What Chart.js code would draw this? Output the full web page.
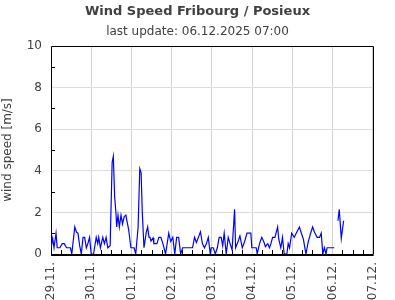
<!DOCTYPE html>
<html>
<head>
<meta charset="utf-8">
<script src="https://cdn.jsdelivr.net/npm/chart.js@4/dist/chart.umd.min.js"></script>
<style>
html,body{margin:0;padding:0;background:#fff;}
#wrap{width:395px;height:300px;position:relative;}
</style>
</head>
<body>
<div id="wrap"><canvas id="c" width="395" height="300"></canvas></div>
<script>
const titleText = 'Wind Speed Fribourg / Posieux';
const subtitleText = 'last update: 06.12.2025 07:00';
const yAxisTitle = 'wind speed [m/s]';
const dayLabels = ['29.11.','30.11.','01.12.','02.12.','03.12.','04.12.','05.12.','06.12.','07.12.'];
const yTicks = [0, 2, 4, 6, 8, 10];

// hours since 29.11. 00:00
const hours = [0,1.0,1.8,3.0,3.7,5.3,6.7,7.9,9.3,11.6,12.4,14.2,15.2,16.1,17.1,18.1,19.1,20.1,21.1,22.0,23.0,24.0,25.4,26.0,27.0,27.9,28.5,29.5,30.9,31.9,32.9,33.9,35.3,36.5,37.2,38.0,38.8,39.2,40.0,40.8,41.8,42.7,43.7,44.7,45.3,46.3,47.7,49.6,50.6,52.0,53.0,53.8,54.5,55.5,56.9,57.7,58.5,59.1,59.7,60.9,61.4,63.2,64.4,65.6,66.8,68.4,70.3,71.5,72.7,73.9,75.0,76.2,77.4,78.6,84.5,85.7,86.8,88.0,89.2,90.4,91.6,92.8,93.9,95.1,95.7,96.9,98.1,99.3,100.4,101.6,102.5,103.4,104.6,105.8,106.9,108.1,109.6,110.2,111.7,112.8,114.2,115.6,117.0,119.3,119.9,122.5,123.1,124.5,125.8,127.0,128.0,129.4,130.4,131.3,132.3,133.7,135.3,136.0,137.2,138.2,139.2,140.8,141.6,142.4,143.7,145.2,146.7,148.3,149.5,150.7,152.2,153.6,155.0,156.2,157.3,158.9,160.3,161.3,162.3,163.2,164.2,164.8,169.1,170.2,171.3,172.1,173.3,174.7];
const speed = [0.27,0.75,0.3,1.0,0.3,0.3,0.5,0.5,0.3,0.3,0,1.3,1.05,1.0,0.4,0,0.8,0.8,0.3,0.5,0.8,0,0,0.3,0.8,0.5,0.8,0.3,0.8,0.5,0.8,0.3,0.4,4.4,4.7,2.75,1.95,1.3,1.87,1.3,1.87,1.45,1.8,1.87,1.6,1.2,0.3,0.3,0,1.3,4.1,3.9,2.0,0.3,1.05,1.3,0.8,0.8,0.62,0.77,0.5,0.5,0.8,0.8,0.5,0,1.0,0.6,0.8,0,0.8,0.8,0,0.3,0.3,0.8,0.55,0.8,1.07,0.5,0.3,0.5,0.8,0,0.3,0.3,0,0.3,0.8,0.8,0.4,1.0,0,0.8,0.5,0.2,2.15,0.3,0.6,0.87,0.3,0.6,1.0,1.0,0.3,0.3,0,0.5,0.8,0.6,0.35,0.5,0.3,0.5,0.8,0.8,1.3,0.7,0.3,0.8,0,0,0.5,0.3,1.0,0.8,1.05,1.3,1.0,0.7,0,0.6,1.0,1.3,1.05,0.8,0.8,1.0,0,0.3,0,0.3,0.3,null,1.6,2.15,0.75,1.6];

const FONT = 'DejaVu Sans';
const TXT = '#404040';

const frame = {
  id: 'frame',
  beforeDatasetsDraw(chart) {
    const {ctx, chartArea: a, scales} = chart;
    ctx.save();
    ctx.strokeStyle = '#000';
    ctx.lineWidth = 1;
    for (let v = 1; v < 10; v += 2) {
      const y = Math.round(scales.y.getPixelForValue(v)) + 0.5;
      ctx.beginPath(); ctx.moveTo(a.left, y); ctx.lineTo(a.left + 4, y); ctx.stroke();
    }
    for (let h = 6; h < 192; h += 6) {
      if (h % 24 === 0) continue;
      const x = Math.round(scales.x.getPixelForValue(h)) + 0.5;
      ctx.beginPath(); ctx.moveTo(x, a.bottom); ctx.lineTo(x, a.bottom - 4); ctx.stroke();
    }
    ctx.beginPath();
    ctx.moveTo(Math.round(a.left) + 0.5, Math.round(a.bottom));
    ctx.lineTo(Math.round(a.left) + 0.5, Math.round(a.top) + 0.5);
    ctx.lineTo(Math.round(a.right) + 0.5, Math.round(a.top) + 0.5);
    ctx.lineTo(Math.round(a.right) + 0.5, Math.round(a.bottom));
    ctx.stroke();
    ctx.lineWidth = 2;
    ctx.beginPath();
    ctx.moveTo(a.left, Math.round(a.bottom) + 1);
    ctx.lineTo(a.right + 1, Math.round(a.bottom) + 1);
    ctx.stroke();
    ctx.restore();
  }
};

new Chart(document.getElementById('c'), {
  type: 'line',
  data: {
    datasets: [{
      data: hours.map((h, i) => ({x: h, y: speed[i]})),
      borderColor: '#0000ff',
      borderWidth: 1.2,
      pointRadius: 0,
      tension: 0,
      spanGaps: false,
      fill: false
    }]
  },
  options: {
    responsive: false,
    animation: false,
    devicePixelRatio: 1,
    layout: {padding: 0},
    plugins: {
      legend: {display: false},
      tooltip: {enabled: false},
      title: {display: true, text: titleText, color: TXT, font: {family: FONT, size: 13, weight: 'bold'}, padding: {top: 4, bottom: 3}},
      subtitle: {display: true, text: subtitleText, color: TXT, font: {family: FONT, size: 12}, padding: {top: 2, bottom: 7}}
    },
    scales: {
      x: {
        type: 'linear', min: 0, max: 192,
        afterBuildTicks(s) { s.ticks = dayLabels.map((_, i) => ({value: i * 24})); },
        afterFit(s) { s.height = 46; },
        ticks: {
          autoSkip: false, minRotation: 90, maxRotation: 90, padding: 8,
          color: TXT, font: {family: FONT, size: 12},
          callback: (v) => dayLabels[Math.round(v / 24)]
        },
        grid: {color: '#d0d0d0', drawTicks: false, lineWidth: 1},
        border: {display: false}
      },
      y: {
        min: 0, max: 10,
        afterBuildTicks(s) { s.ticks = yTicks.map(v => ({value: v})); },
        afterFit(s) { s.width = 51; },
        ticks: {color: TXT, font: {family: FONT, size: 12}, padding: 9},
        grid: {color: '#dcdcdc', drawTicks: false, lineWidth: 1},
        border: {display: false},
        title: {display: true, text: yAxisTitle, color: TXT, font: {family: FONT, size: 12}, padding: {top: 1, bottom: 0}}
      },
      yr: {
        position: 'right', display: true, min: 0, max: 10,
        afterFit(s) { s.width = 20; },
        ticks: {display: false},
        grid: {display: false, drawTicks: false},
        border: {display: false}
      }
    }
  },
  plugins: [frame]
});
</script>
</body>
</html>
